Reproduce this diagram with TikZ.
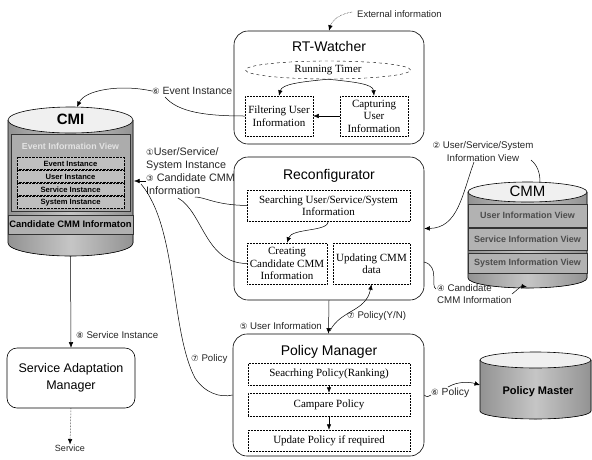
\documentclass[tikz,border=0pt]{standalone}
\usepackage{fontspec}
\setmainfont{Liberation Serif}
\setsansfont{Liberation Sans}
\newfontfamily\dejavu{DejaVu Sans}
\usetikzlibrary{arrows.meta,shapes.geometric}
\newcommand{\cnum}[1]{{\dejavu\fontsize{8.5}{9}\selectfont #1}}
\begin{document}
\begin{tikzpicture}[x=1pt,y=-1pt,
  bigbox/.style={draw, rounded corners=14pt, line width=0.6pt, minimum width=#1},
  inbox/.style={draw, densely dotted, line width=0.5pt, align=center, inner sep=1pt,
    font=\fontsize{11}{12.5}\selectfont},
  boxtitle/.style={font=\sffamily\fontsize{14}{16}\selectfont, inner sep=0pt},
  lbl/.style={font=\sffamily\fontsize{9.7}{13}\selectfont, inner sep=0pt, text=black!85},
  conn/.style={line width=0.5pt},
  arr/.style={conn, -{Latex[length=5.5pt,width=4.5pt]}},
  rowtext/.style={font=\sffamily\bfseries\fontsize{8.2}{9}\selectfont, inner sep=0pt},
]
\useasboundingbox (0,0) rectangle (592,459);
\fill[white] (0,0) rectangle (592,459);

% ---------- RT-Watcher ----------
\node[bigbox=190pt, minimum height=113pt] (rtw) at (329,87.5) {};
\node[boxtitle] (rtwt) at (329,46) {RT-Watcher};
\node[draw, dashed, ellipse, minimum width=165pt, minimum height=18pt, inner sep=0pt,
  font=\fontsize{11}{12}\selectfont] (timer) at (328,70) {Running Timer};
\node[inbox, minimum width=68pt, minimum height=40pt] (filt) at (279,116) {Filtering User\\Information};
\node[inbox, minimum width=68pt, minimum height=40pt] (capt) at (374,116) {Capturing\\User\\Information};
\draw[arr] (timer.south) .. controls (300,82) and (282,84) .. (filt.north);
\draw[arr] (timer.south) .. controls (355,82) and (373,84) .. (capt.north);
\draw[arr] (capt.west) -- (filt.east);

% external information
\node[lbl, anchor=west, font=\sffamily\fontsize{9.5}{11}\selectfont] (ext) at (357,14) {External information};
\coordinate (extS) at (352,12);
\draw[conn, densely dotted, -{Latex[length=5.5pt,width=4.5pt]}] (extS) .. controls (340,14) and (332,20) .. (rtw.north);

% ---------- Reconfigurator ----------
\node[bigbox=190pt, minimum height=143pt] (rec) at (329,228.5) {};
\node[boxtitle] (rect) at (329,176) {Reconfigurator};
\node[inbox, minimum width=163pt, minimum height=31pt] (srch) at (328.5,205.5) {Searching User/Service/System\\Information};
\node[inbox, minimum width=80pt, minimum height=41pt] (creat) at (287,263.5) {Creating\\Candidate CMM\\Information};
\node[inbox, minimum width=77pt, minimum height=41pt] (upd) at (371.5,263.5) {Updating CMM\\data};
\draw[arr] (srch.south) .. controls (328,232) and (292,228) .. (creat.north);

% ---------- Policy Manager ----------
\node[bigbox=191pt, minimum height=122pt] (pm) at (328.5,395) {};
\node[boxtitle] (pmt) at (329,352) {Policy Manager};
\node[inbox, minimum width=162pt, minimum height=22pt] (sp) at (329,374) {Seacrhing Policy(Ranking)};
\node[inbox, minimum width=162pt, minimum height=23pt] (cp) at (329,404.5) {Campare Policy};
\node[inbox, minimum width=162pt, minimum height=21pt] (up) at (329,440.5) {Update Policy if required};
\draw[arr] (sp) -- (cp);
\draw[arr] (cp) -- (up);

% ---------- Service Adaptation Manager ----------
\node[draw, rounded corners=10pt, line width=0.6pt, minimum width=128pt, minimum height=60pt,
  align=center, font=\sffamily\fontsize{12.5}{17}\selectfont] (sam) at (71,378) {Service Adaptation\\Manager};
\node[lbl, font=\sffamily\fontsize{9}{11}\selectfont] (svc) at (70,448) {Service};
\draw[conn, densely dotted, -{Latex[length=5.5pt,width=4.5pt]}] (sam.south) -- (svc.north);

% ---------- CMI cylinder ----------
\fill[left color=gray!85, right color=gray!85, middle color=gray!45]
  (8,120) -- (8,243) arc[start angle=180, end angle=360, x radius=62.5pt, y radius=13pt]
  -- (133,120) -- cycle;
\draw[line width=0.6pt] (8,120) -- (8,243) arc[start angle=180, end angle=360, x radius=62.5pt, y radius=13pt] -- (133,120);
\filldraw[fill=gray!12, line width=0.6pt] (70.5,120) ellipse[x radius=62.5pt, y radius=13pt];
\node[font=\sffamily\bfseries\fontsize{15}{16}\selectfont, inner sep=0pt] (cmit) at (70.5,119) {CMI};
\filldraw[fill=gray!65, draw=black!80, line width=0.4pt] (11,134) rectangle (130,211);
\node[rowtext, text=gray!22, font=\sffamily\bfseries\fontsize{8.8}{9}\selectfont] at (70.5,146) {Event Information View};
\foreach \yy/\tt in {157/Event Instance, 170/User Instance, 183/Service Instance, 196/System Instance}{
  \filldraw[fill=gray!50, draw=black, densely dotted, line width=0.4pt] (17,\yy) rectangle (124,\yy+12.5);
  \node[rowtext, font=\sffamily\bfseries\fontsize{7.6}{8}\selectfont] at (70.5,\yy+6.5) {\tt};
}
\filldraw[fill=gray!62, draw=black!80, line width=0.4pt] (8,215) rectangle (133,234);
\node[rowtext, font=\sffamily\bfseries\fontsize{9.4}{10}\selectfont] at (70.5,224.5) {Candidate CMM Informaton};
\coordinate (cmiT) at (77,107);
\coordinate (cmiR) at (134,181);
\coordinate (cmiRb) at (141,184);
\coordinate (cmiB) at (70.5,256);

% ---------- CMM cylinder ----------
\fill[left color=gray!85, right color=gray!85, middle color=gray!45]
  (468,192) -- (468,278) arc[start angle=180, end angle=360, x radius=59.5pt, y radius=10pt]
  -- (587,192) -- cycle;
\draw[line width=0.6pt] (468,192) -- (468,278) arc[start angle=180, end angle=360, x radius=59.5pt, y radius=10pt] -- (587,192);
\filldraw[fill=gray!12, line width=0.6pt] (527.5,192) ellipse[x radius=59.5pt, y radius=10pt];
\node[font=\sffamily\fontsize{15}{16}\selectfont, inner sep=0pt] (cmmt) at (527.5,191) {CMM};
\foreach \ya/\yb/\tt in {204/227/User Information View, 228/250/Service Information View, 253/273/System Information View}{
  \filldraw[fill=gray!60, draw=black!80, line width=0.4pt] (468,\ya) rectangle (587,\yb);
  \node[rowtext, text=black!70, font=\sffamily\bfseries\fontsize{9}{10}\selectfont] at (527.5,{(\ya+\yb)/2}) {\tt};
}
\coordinate (cmmT) at (540,182);
\coordinate (cmmB) at (527,287);

% ---------- Policy Master cylinder ----------
\fill[left color=gray!85, right color=gray!85, middle color=gray!45]
  (480,360) -- (480,411) arc[start angle=180, end angle=360, x radius=55.5pt, y radius=8pt]
  -- (591,360) -- cycle;
\draw[line width=0.6pt] (480,360) -- (480,411) arc[start angle=180, end angle=360, x radius=55.5pt, y radius=8pt] -- (591,360);
\filldraw[fill=gray!12, line width=0.6pt] (535.5,360) ellipse[x radius=55.5pt, y radius=8pt];
\node[font=\sffamily\bfseries\fontsize{11}{13}\selectfont, inner sep=0pt] (pmst) at (538,392) {Policy Master};
\coordinate (pmsL) at (480,385);

% ---------- labels ----------
\node[lbl, anchor=west, font=\sffamily\fontsize{10.5}{13}\selectfont] (evl) at (152,91) {\cnum{⑥} Event Instance};
\node[lbl, anchor=north west, align=left, font=\sffamily\fontsize{10.8}{13}\selectfont] (usl) at (146,147) {\cnum{①}User/Service/\\System Instance\\\cnum{③} Candidate CMM\\Information};
\node[lbl, align=center] (cmml) at (483,152) {\cnum{②} User/Service/System\\Information View};
\node[lbl, anchor=north west, align=left, font=\sffamily\fontsize{9.7}{12}\selectfont] (ccl) at (437,284) {\cnum{④} Candidate\\CMM Information};
\node[lbl, anchor=east] (uil) at (322,326) {\cnum{⑤} User Information};
\node[lbl, anchor=west] (ynl) at (347,316) {\cnum{⑦} Policy(Y/N)};
\node[lbl, anchor=west] (pll) at (191,359) {\cnum{⑦} Policy};
\node[lbl, anchor=west, font=\sffamily\fontsize{10.3}{13}\selectfont] (pml) at (431,393) {\cnum{⑥} Policy};
\node[lbl, anchor=west] (sil) at (76,335) {\cnum{⑧} Service Instance};

% ---------- connectors ----------
% event instance
\draw[conn] (filt.west) .. controls (205,116) and (178,112) .. (165,97);
\draw[arr] (evl.west) .. controls (120,84) and (85,90) .. (cmiT);
% user/service/system instance
\draw[conn] (srch.west) .. controls (215,205) and (205,197) .. (195,197);
\draw[arr] (usl.west |- cmiR) -- (cmiR);
\draw[conn] (creat.west) .. controls (205,263) and (203,212) .. (178,198);
\draw[conn] (cmiRb) .. controls (178,228) and (170,330) .. (195,378) .. controls (205,393) and (220,398) .. (pm.west);
% CMM view
\draw[conn] (531,160) .. controls (537,165) and (540,172) .. (cmmT);
\draw[arr] (474,162) .. controls (462,195) and (458,228) .. (rec.east);
% candidate CMM
\draw[conn] (424,262) .. controls (440,266) and (430,286) .. (436,289);
\draw[arr] (512,294) .. controls (517,290) and (521,286) .. (cmmB);
% rec -> pm
\draw[arr] (rec.south) -- (pm.north);
\draw[arr] (330,331) .. controls (340,310) and (366,312) .. (upd.south);
% policy master
\draw[conn] (pm.east) .. controls (427,398) and (429,396) .. (431,395);
\draw[arr] (448,387) .. controls (458,381) and (470,382) .. (pmsL);
% CMI -> SAM
\draw[arr] (cmiB) -- (sam.north);
\end{tikzpicture}
\end{document}
